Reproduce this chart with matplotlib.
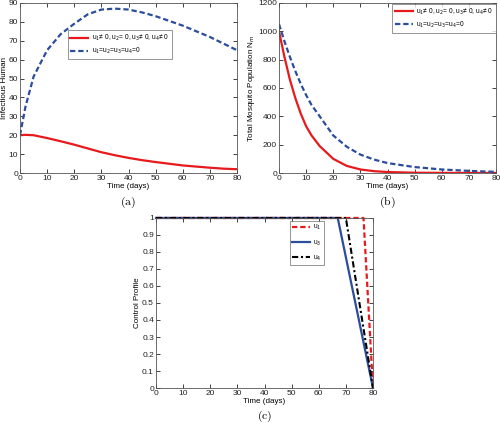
import matplotlib
matplotlib.use("Agg")
import matplotlib.pyplot as plt
import numpy as np

plt.rcParams['font.family'] = ['Liberation Sans', 'DejaVu Sans']

# Panel (a): infectious humans
t_a = [0, 2, 5, 10, 15, 20, 25, 30, 35, 40, 45, 50, 55, 60, 65, 70, 75, 80]
ih_ctrl = [20, 20.2, 20, 18.5, 16.8, 15, 13, 11, 9.4, 8, 6.8, 5.8, 4.9, 4, 3.4, 2.8, 2.3, 2]
ih_none = [20, 35, 51, 65, 73.5, 79, 84, 86.5, 87, 86.5, 85, 83, 80.5, 78, 75, 72, 68.5, 65]

# Panel (b): total mosquito population
t_b = [0, 2, 4, 6, 8, 10, 12, 15, 20, 25, 30, 35, 40, 50, 60, 70, 80]
nm_ctrl = [1000, 820, 660, 530, 420, 330, 265, 190, 100, 50, 25, 13, 7, 2, 1, 0.5, 0.3]
nm_none = [1050, 930, 820, 720, 630, 550, 480, 400, 265, 185, 130, 95, 70, 42, 25, 15, 8]

# Panel (c): control profiles
t_u1 = [0, 76.5, 80]
u1 = [1, 1, 0]
t_u3 = [0, 67, 80]
u3 = [1, 1, 0]
t_u4 = [0, 70, 80]
u4 = [1, 1, 0]

RED = '#e8191c'
BLUE = '#2b4d9b'
DASH = (0, (2.4, 1.3))

fig = plt.figure(figsize=(5.0, 4.23), dpi=100)

def style(ax):
    ax.tick_params(direction='in', top=True, right=True, labelsize=6, length=3,
                   width=0.6, pad=1.5, colors='#222222')
    for s in ax.spines.values():
        s.set_linewidth(0.6)
        s.set_color('#555555')

lab_kw = dict(fontsize=5.8, labelpad=0.5)
leg_kw = dict(fontsize=4.8, frameon=True, fancybox=False, edgecolor='#666666',
              borderpad=0.4, labelspacing=0.45, handletextpad=0.5, borderaxespad=0)

axa = fig.add_axes([0.04, 0.591, 0.434, 0.402])
axa.plot(t_a, ih_ctrl, color=RED, lw=1.6, label=r'u$_1$≠ 0, u$_2$= 0, u$_3$≠ 0, u$_4$≠ 0')
axa.plot(t_a, ih_none, color=BLUE, lw=1.6, ls=DASH, label=r'u$_1$=u$_2$=u$_3$=u$_4$=0')
axa.set_xlim(0, 80); axa.set_ylim(0, 90)
axa.set_xticks(range(0, 81, 10)); axa.set_yticks(range(0, 91, 10))
axa.set_xlabel('Time (days)', **lab_kw)
axa.set_ylabel('Infectious Human', **lab_kw)
style(axa)
axa.legend(loc='upper left', bbox_to_anchor=(0.22, 0.84), handlelength=2.7,
           **leg_kw).get_frame().set_linewidth(0.6)

axb = fig.add_axes([0.558, 0.591, 0.434, 0.402])
axb.plot(t_b, nm_ctrl, color=RED, lw=1.6, label=r'u$_1$≠ 0, u$_2$= 0, u$_3$≠ 0, u$_4$≠ 0')
axb.plot(t_b, nm_none, color=BLUE, lw=1.6, ls=DASH, label=r'u$_1$=u$_2$=u$_3$=u$_4$=0')
axb.set_xlim(0, 80); axb.set_ylim(0, 1200)
axb.set_xticks(range(0, 81, 10)); axb.set_yticks(range(0, 1201, 200))
axb.set_xlabel('Time (days)', **lab_kw)
axb.set_ylabel(r'Total Mosquito Population N$_m$', **lab_kw)
style(axb)
axb.legend(loc='upper right', bbox_to_anchor=(1.0, 0.995), handlelength=2.7,
           **leg_kw).get_frame().set_linewidth(0.6)

axc = fig.add_axes([0.312, 0.0827, 0.434, 0.402])
axc.plot(t_u1, u1, color=RED, lw=1.6, ls=DASH, label=r'u$_1$', clip_on=False)
axc.plot(t_u3, u3, color=BLUE, lw=1.6, label=r'u$_3$', clip_on=False)
axc.plot(t_u4, u4, color='black', lw=1.5, ls=(0, (3, 1.3, 1, 1.3)), label=r'u$_4$',
         clip_on=False)
axc.set_xlim(0, 80); axc.set_ylim(0, 1)
axc.set_xticks(range(0, 81, 10))
axc.set_yticks(np.round(np.arange(0, 1.01, 0.1), 1))
axc.set_yticklabels(['0', '0.1', '0.2', '0.3', '0.4', '0.5', '0.6', '0.7', '0.8', '0.9', '1'])
axc.set_xlabel('Time (days)', **lab_kw)
axc.set_ylabel('Control Profile', **lab_kw)
style(axc)
leg_c = dict(leg_kw)
leg_c['labelspacing'] = 0.9
axc.legend(loc='upper right', bbox_to_anchor=(0.775, 0.985), handlelength=2.6,
           **leg_c).get_frame().set_linewidth(0.6)

for x, y, s in [(0.255, 0.522, '(a)'), (0.775, 0.522, '(b)'), (0.53, 0.016, '(c)')]:
    fig.text(x, y, r'$\mathrm{' + s + '}$', fontsize=8.5, ha='center', va='center',
             math_fontfamily='cm')

fig.savefig('out.png', dpi=100)
